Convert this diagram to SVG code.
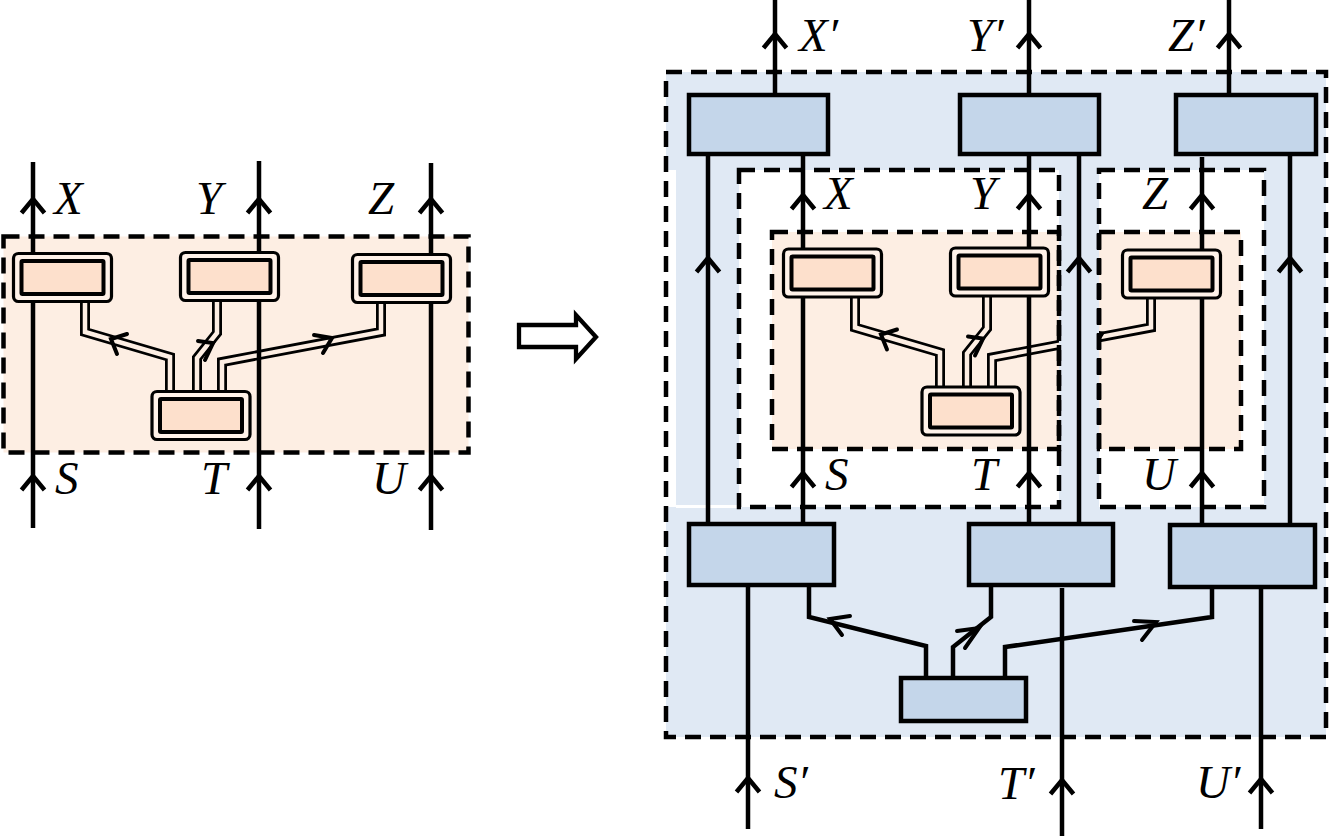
<svg xmlns="http://www.w3.org/2000/svg" width="1330" height="836" viewBox="0 0 1330 836">
<style>
.ln{stroke:#000;stroke-width:4.5;fill:none}
.dash{fill:none;stroke:#000;stroke-width:4.5;stroke-dasharray:16 9}
.lbl{font-family:"Liberation Serif","Times New Roman",serif;font-style:italic;font-size:47px;fill:#000}
.bo{fill:#fff2e9;stroke:#000;stroke-width:3.2}
.bi{fill:#fde0cc;stroke:#000;stroke-width:4}
.bb{fill:#c4d6ea;stroke:#000;stroke-width:4.5}
.dw{fill:none;stroke:#000;stroke-width:10;stroke-linejoin:miter}
.dwi{fill:none;stroke:#fdeee3;stroke-width:4.5;stroke-linejoin:miter}
.ah{fill:none;stroke:#000;stroke-width:4;stroke-linecap:round;stroke-linejoin:miter}
.sw{fill:none;stroke:#000;stroke-width:4.5;stroke-linejoin:miter}
.chev{fill:none;stroke:#000;stroke-width:4.5;stroke-linejoin:miter}
</style>
<defs>
<path id="chev" class="chev" d="M-11.5,14 L0,0 L11.5,14"/>
<clipPath id="cR">
<rect x="772" y="225" width="287" height="230"/>
<rect x="1099" y="225" width="142" height="230"/>
</clipPath>
</defs>

<!-- LEFT DIAGRAM -->
<rect x="3.5" y="236.5" width="465" height="216" fill="#fdeee3"/>
<g id="left-wires">
<path class="dw" d="M85 296 L85 332 L170 357 L170 396"/>
<path class="dwi" d="M85 296 L85 332 L170 357 L170 396"/>
<path class="dw" d="M217 296 L217 333 L197 358 L197 396"/>
<path class="dwi" d="M217 296 L217 333 L197 358 L197 396"/>
<path class="dw" d="M381 298 L381 332 L222 362 L222 396"/>
<path class="dwi" d="M381 298 L381 332 L222 362 L222 396"/>
</g>
<g id="left-lines">
<line class="ln" x1="33" y1="162" x2="33" y2="528"/>
<line class="ln" x1="259" y1="161" x2="259" y2="529"/>
<line class="ln" x1="431" y1="163" x2="431" y2="530"/>
<use href="#chev" x="33" y="199"/>
<use href="#chev" x="259" y="199"/>
<use href="#chev" x="431" y="199"/>
<use href="#chev" x="33" y="476"/>
<use href="#chev" x="259" y="476"/>
<use href="#chev" x="431" y="476"/>
</g>
<g id="L-box1" transform="translate(13.5,253.5)"><rect class="bo" width="98" height="48" rx="5"/><rect class="bi" x="8" y="7.5" width="82" height="33" rx="1"/></g>
<g id="L-box2" transform="translate(180.5,252.5)"><rect class="bo" width="98" height="48" rx="5"/><rect class="bi" x="8" y="7.5" width="82" height="33" rx="1"/></g>
<g id="L-box3" transform="translate(352.5,254.5)"><rect class="bo" width="98" height="48" rx="5"/><rect class="bi" x="8" y="7.5" width="82" height="33" rx="1"/></g>
<g id="L-box4" transform="translate(152,391.5)"><rect class="bo" width="98" height="48" rx="5"/><rect class="bi" x="8" y="7.5" width="82" height="33" rx="1"/></g>
<g id="left-wire-arrows">
<path class="ah" d="M127 334 L111 339 L117 354"/>
<path class="ah" d="M198 341 L213 343 L205 360"/>
<path class="ah" d="M314 335 L332 338 L323 353"/>
</g>
<rect class="dash" x="3.5" y="236.5" width="465" height="216"/>
<g id="left-labels" class="lbl">
<text x="54" y="214">X</text>
<text x="196" y="214">Y</text>
<text x="368" y="214">Z</text>
<text x="55" y="494">S</text>
<text x="201" y="494">T</text>
<text x="372" y="494">U</text>
</g>

<!-- IMPLIES ARROW -->
<polygon id="implies" points="519,325 576,325 576,315 596,337 576,359 576,347 519,347" fill="#fff" stroke="#000" stroke-width="4.3" stroke-linejoin="miter"/>

<!-- RIGHT DIAGRAM -->
<rect x="666" y="72" width="660" height="665" fill="#e0e9f4"/>
<rect x="664" y="170" width="12" height="337" fill="#fff"/>
<rect x="676" y="505" width="63" height="3" fill="#fff"/>
<rect x="739" y="170" width="320" height="337" fill="#fff"/>
<rect x="1099" y="170" width="165" height="337" fill="#fff"/>
<rect x="772" y="232" width="287" height="217" fill="#fdeee3"/>
<rect x="1099" y="232" width="142" height="217" fill="#fdeee3"/>

<g id="right-inner-wires" transform="translate(770,-4.5)">
<path class="dw" d="M85 296 L85 332 L170 357 L170 396"/>
<path class="dwi" d="M85 296 L85 332 L170 357 L170 396"/>
<path class="dw" d="M217 296 L217 333 L197 358 L197 396"/>
<path class="dwi" d="M217 296 L217 333 L197 358 L197 396"/>
</g>
<g id="right-inner-wire3" clip-path="url(#cR)">
<g transform="translate(770,-4.5)">
<path class="dw" d="M381 298 L381 332 L222 362 L222 396"/>
<path class="dwi" d="M381 298 L381 332 L222 362 L222 396"/>
<path class="ah" d="M314 335 L332 338 L323 353"/>
</g>
</g>
<g id="right-outer-wires">
<path class="sw" d="M809 583 L809 617 L926 646 L926 680"/>
<path class="sw" d="M991 583 L991 617 L953 647 L953 680"/>
<path class="sw" d="M1212 585 L1212 617 L1005 647 L1005 680"/>
<path class="ah" d="M850 616 L830 619 L842 635"/>
<path class="ah" d="M957 631 L979 628 L965 648"/>
<path class="ah" d="M1134 621 L1156 622 L1142 640"/>
</g>
<g id="right-lines">
<line class="ln" x1="775" y1="0" x2="775" y2="97"/>
<line class="ln" x1="1029" y1="0" x2="1029" y2="97"/>
<line class="ln" x1="1229" y1="0" x2="1229" y2="97"/>
<line class="ln" x1="708" y1="152" x2="708" y2="526"/>
<line class="ln" x1="803" y1="152" x2="803" y2="526"/>
<line class="ln" x1="1029" y1="152" x2="1029" y2="526"/>
<line class="ln" x1="1079" y1="152" x2="1079" y2="526"/>
<line class="ln" x1="1202" y1="157" x2="1202" y2="527"/>
<line class="ln" x1="1290" y1="152" x2="1290" y2="527"/>
<line class="ln" x1="748" y1="583" x2="748" y2="829"/>
<line class="ln" x1="1062" y1="588" x2="1062" y2="836"/>
<line class="ln" x1="1261" y1="585" x2="1261" y2="829"/>
<use href="#chev" x="775" y="34"/>
<use href="#chev" x="1029" y="34"/>
<use href="#chev" x="1229" y="34"/>
<use href="#chev" x="803" y="195"/>
<use href="#chev" x="1029" y="195"/>
<use href="#chev" x="1202" y="195"/>
<use href="#chev" x="708" y="258"/>
<use href="#chev" x="1079" y="258"/>
<use href="#chev" x="1290" y="258"/>
<use href="#chev" x="803" y="473"/>
<use href="#chev" x="1029" y="473"/>
<use href="#chev" x="1202" y="473"/>
<use href="#chev" x="748" y="778"/>
<use href="#chev" x="1062" y="780"/>
<use href="#chev" x="1261" y="779"/>
</g>
<g id="R-box1" transform="translate(783.5,249)"><rect class="bo" width="98" height="48" rx="5"/><rect class="bi" x="8" y="7.5" width="82" height="33" rx="1"/></g>
<g id="R-box2" transform="translate(950.5,248)"><rect class="bo" width="98" height="48" rx="5"/><rect class="bi" x="8" y="7.5" width="82" height="33" rx="1"/></g>
<g id="R-box3" transform="translate(1122.5,250)"><rect class="bo" width="98" height="48" rx="5"/><rect class="bi" x="8" y="7.5" width="82" height="33" rx="1"/></g>
<g id="R-box4" transform="translate(922,387)"><rect class="bo" width="98" height="48" rx="5"/><rect class="bi" x="8" y="7.5" width="82" height="33" rx="1"/></g>
<g id="right-inner-arrows" transform="translate(770,-4.5)">
<path class="ah" d="M127 334 L111 339 L117 354"/>
<path class="ah" d="M198 341 L213 343 L205 360"/>
</g>
<g id="B-top1"><rect class="bb" x="689" y="95" width="139" height="59"/></g>
<g id="B-top2"><rect class="bb" x="960" y="95" width="139" height="59"/></g>
<g id="B-top3"><rect class="bb" x="1176" y="95" width="140" height="59"/></g>
<g id="B-mid1"><rect class="bb" x="689" y="524" width="145" height="61"/></g>
<g id="B-mid2"><rect class="bb" x="969" y="524" width="144" height="61"/></g>
<g id="B-mid3"><rect class="bb" x="1170" y="525" width="145" height="62"/></g>
<g id="B-bottom"><rect class="bb" x="901" y="678" width="125" height="43"/></g>

<g id="right-dashed">
<rect class="dash" x="666" y="72" width="660" height="665"/>
<rect class="dash" x="739" y="170" width="320" height="337"/>
<rect class="dash" x="1099" y="170" width="165" height="337"/>
<rect class="dash" x="772" y="232" width="287" height="217"/>
<rect class="dash" x="1099" y="232" width="142" height="217"/>
</g>
<g id="right-labels" class="lbl">
<text x="799" y="51">X′</text>
<text x="967" y="51">Y′</text>
<text x="1168" y="51">Z′</text>
<text x="824" y="209">X</text>
<text x="970" y="209">Y</text>
<text x="1142" y="209">Z</text>
<text x="825" y="490">S</text>
<text x="971" y="490">T</text>
<text x="1142" y="490">U</text>
<text x="774" y="798">S′</text>
<text x="998" y="799">T′</text>
<text x="1196" y="798">U′</text>
</g>
</svg>
